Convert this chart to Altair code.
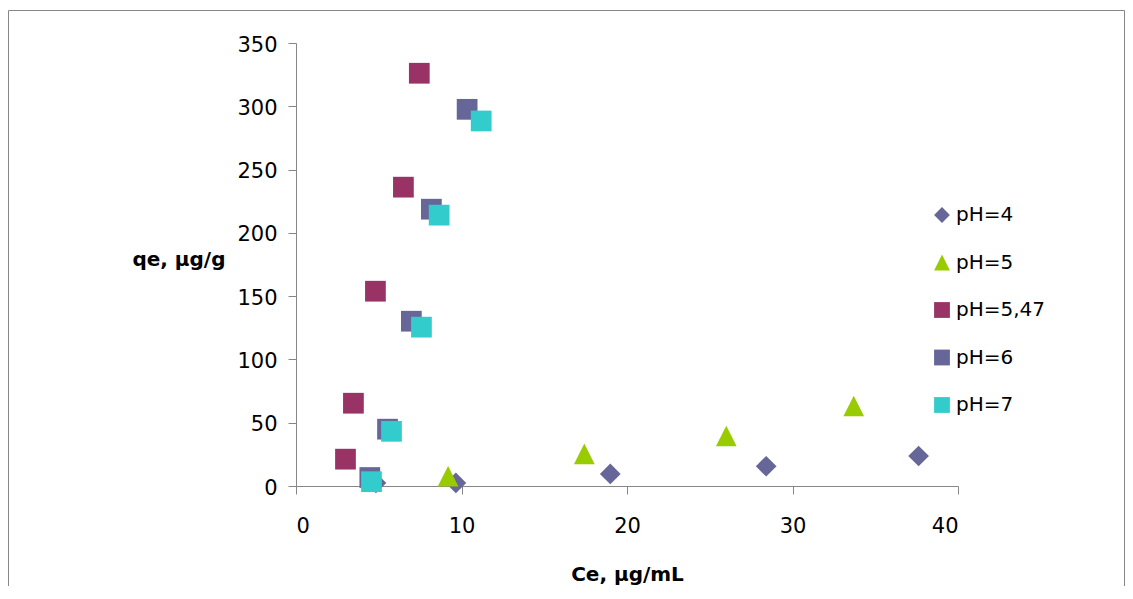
import altair as alt
import pandas as pd

series = ["pH=4", "pH=5", "pH=5,47", "pH=6", "pH=7"]
colors = ["#666699", "#99cc00", "#993366", "#666699", "#33cccc"]
shapes = ["diamond", "M0,-1L-1,1L1,1Z", "square", "square", "square"]

ce_ph4 = [4.83, 9.66, 18.99, 28.41, 37.62]
qe_ph4 = [2.4, 2.4, 9.5, 15.6, 23.7]
ce_ph5 = [4.59, 9.19, 17.42, 26.0, 33.7]
qe_ph5 = [4.0, 7.7, 25.3, 39.5, 63.2]
ce_ph547 = [2.99, 3.47, 4.80, 6.49, 7.45]
qe_ph547 = [21.2, 65.4, 153.9, 236.1, 326.1]
ce_ph6 = [4.46, 5.53, 6.97, 8.18, 10.34]
qe_ph6 = [6.7, 44.9, 130.2, 218.7, 297.6]
ce_ph7 = [4.56, 5.77, 7.58, 8.65, 11.19]
qe_ph7 = [3.4, 43.2, 125.5, 214.0, 288.4]

x_ticks = [0, 10, 20, 30, 40]
y_ticks = [0, 50, 100, 150, 200, 250, 300, 350]

all_ce = [ce_ph4, ce_ph5, ce_ph547, ce_ph6, ce_ph7]
all_qe = [qe_ph4, qe_ph5, qe_ph547, qe_ph6, qe_ph7]

rows = []
for i, (name, xs, ys) in enumerate(zip(series, all_ce, all_qe)):
    for x, y in zip(xs, ys):
        rows.append({"series": name, "Ce": x, "qe": y, "idx": i})
df = pd.DataFrame(rows)

FONT = "DejaVu Sans"
GRAY = "#868686"

points = alt.Chart(df).mark_point(filled=True, opacity=1, strokeWidth=0, size=430).encode(
    x=alt.X("Ce:Q", scale=alt.Scale(domain=[0, 40], nice=False, zero=True),
            axis=alt.Axis(values=x_ticks, title="Ce, µg/mL", grid=False,
                          domainColor=GRAY, tickColor=GRAY, tickSize=8,
                          labelFontSize=21, labelFont=FONT, labelColor="black",
                          labelBaseline="alphabetic", labelPadding=38,
                          titleFont=FONT, titleFontSize=20, titleFontWeight="bold",
                          titleColor="black", titleY=94, titleBaseline="alphabetic")),
    y=alt.Y("qe:Q", scale=alt.Scale(domain=[0, 350], nice=False),
            axis=alt.Axis(values=y_ticks, title="qe, µg/g", grid=False,
                          domainColor=GRAY, tickColor=GRAY, tickSize=8,
                          labelFontSize=21, labelFont=FONT, labelColor="black",
                          labelPadding=11, labelOffset=2,
                          titleFont=FONT, titleFontSize=20, titleFontWeight="bold",
                          titleColor="black", titleAngle=0, titleAlign="right",
                          titleX=-71, titleY=222, titleBaseline="alphabetic")),
    color=alt.Color("series:N", scale=alt.Scale(domain=series, range=colors),
                    legend=alt.Legend(title=None, orient="none", legendX=636, legendY=162,
                                      labelFont=FONT, labelFontSize=20, labelColor="black",
                                      symbolSize=250, labelOffset=4, rowPadding=27.5,
                                      padding=0, symbolStrokeWidth=0)),
    shape=alt.Shape("series:N", scale=alt.Scale(domain=series, range=shapes)),
    order=alt.Order("idx:Q"),
)

border = alt.Chart(pd.DataFrame({"a": [0]})).mark_rect(
    filled=False, stroke=GRAY, strokeWidth=1
).encode(
    x=alt.value(-287.5), x2=alt.value(828.5), y=alt.value(-32.5), y2=alt.value(620)
)

chart = alt.layer(border, points).properties(
    width=662, height=443,
    autosize=alt.AutoSizeParams(type="none"),
    padding={"left": 288, "top": 35, "right": 167, "bottom": 100},
).configure_view(stroke=None)

chart.save("out.html", embed_options={"renderer": "svg", "actions": False})
